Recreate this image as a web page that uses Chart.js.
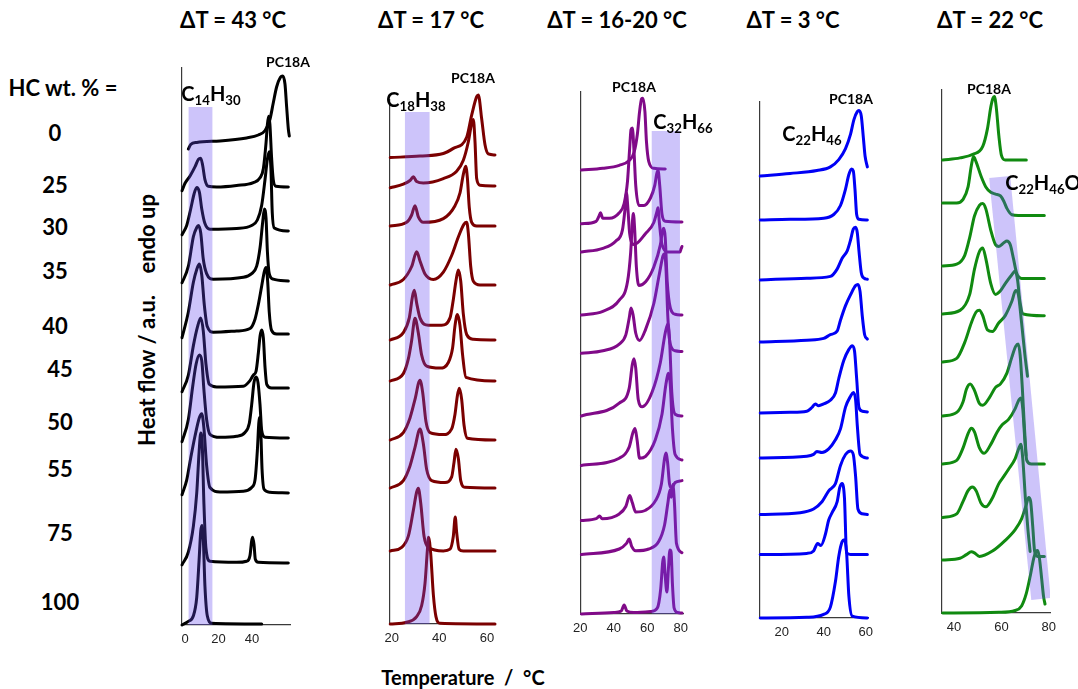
<!DOCTYPE html>
<html lang="en">
<head>
<meta charset="UTF-8">
<title>DSC heating traces</title>
<style>
  body { margin: 0; background: #fff; }
  #fig { position: relative; width: 1078px; height: 689px; overflow: hidden;
         font-family: Lato, 'Open Sans', sans-serif; font-weight: 700; color: #000; }
  .txt { position: absolute; transform: translate(-50%, -50%); white-space: pre; line-height: 1; }
  .panel { position: absolute; }
  sub { font-size: 0.66em; vertical-align: -0.28em; line-height: 0; }
</style>
</head>
<body>
<div id="fig"></div>

<script src="https://cdn.jsdelivr.net/npm/chart.js"></script>
<script>
// HC content of each stacked trace (top to bottom)
const hcLabels = ['0', '25', '30', '35', '40', '45', '50', '55', '75', '100'];
const deltaT = ['ΔT = 43 °C', 'ΔT = 17 °C', 'ΔT = 16-20 °C', 'ΔT = 3 °C', 'ΔT = 22 °C'];
const hydrocarbons = ['C14H30', 'C18H38', 'C32H66', 'C22H46', 'C22H46O'];

// tick labels of each temperature axis
const p1Ticks = [0, 20, 40];
const p2Ticks = [20, 40, 60];
const p3Ticks = [20, 40, 60, 80];
const p4Ticks = [20, 40, 60];
const p5Ticks = [40, 60, 80];

// ---- C14H30 traces: [T °C, heat flow], stacked by offset
const p1Offsets = [476, 438, 394, 344, 291, 237, 187, 132, 62, 0];
const p1Curves = [
  [[2.0,0],[3.4,4.4],[7.0,6.6],[20.9,8.1],[36.8,11.1],[43.8,14],[47.8,18.5],[50.7,29.5],[52.7,46],[54.7,62],[57.1,72],[58.3,73],[59.7,65],[60.7,42],[61.7,20],[62.3,13]],
  [[-1.8,-3.7],[0,3.7],[3.0,11],[6.0,20.3],[8.0,27.7],[9.4,28.8],[10.5,22],[11.9,7.4],[13.9,0.7],[18.9,0],[30.8,1.5],[40.8,4.4],[44.8,9.2],[46.8,18.5],[48.4,44.3],[49.2,62.7],[50.0,70.8],[50.7,62.7],[51.7,29.5],[52.7,7.4],[54.3,0.7],[61.7,0]],
  [[-1.8,-3.7],[1,5.5],[3.4,22],[5.4,37],[7.0,43.5],[8.6,38.7],[10,22],[11.9,7.4],[14.9,1.8],[30.8,2.6],[39.8,5.5],[43.2,11],[45.8,25.8],[47.8,51.7],[49.2,72],[50.3,79.3],[51.3,62.7],[52.1,18.5],[53.3,3],[61.7,0]],
  [[-1.8,-1.8],[2,14.8],[5,44.3],[7,53.5],[8,55.4],[9.4,48],[10.9,22],[12.9,7.4],[16.9,1.8],[34.8,3.7],[39.8,7.4],[42.8,14.8],[44.8,33.2],[46.4,59],[47.4,72],[48.4,62.7],[49.2,29.5],[50.3,7.4],[52.7,1.8],[61.7,0]],
  [[-1.8,-3.7],[2,22],[5,51.7],[7,64.6],[8.6,70],[10,59],[11.5,29.5],[13.3,7.4],[16.9,1.8],[30.8,3],[38.8,5.5],[41.8,14.8],[43.8,29.5],[45.8,48],[47.4,62.7],[48.4,66.4],[49.4,51.7],[50.3,22],[51.7,3.7],[54.7,0],[61.7,0]],
  [[-1.8,-3.7],[2,12.9],[5,42.4],[7.4,60.9],[9.4,70.1],[10.9,57.2],[12.5,24],[14.5,3.7],[18.9,1.1],[34.8,1.8],[38.8,7.4],[40.8,12.9],[42.4,16.6],[43.8,35],[44.8,51.7],[45.8,57.9],[46.8,49.8],[47.8,20.3],[48.8,3.7],[51.7,0],[61.7,0]],
  [[-1.8,-3.7],[2,18.5],[4.6,51.7],[6.6,73.8],[8.6,83],[10,77.5],[11.3,48],[12.9,18.5],[14.9,3.7],[20.9,0.7],[30.8,1.8],[35.8,5.5],[38.4,14.8],[39.8,33.2],[41.2,55.4],[42.4,60.9],[43.6,55.4],[44.8,33.2],[45.8,7.4],[47.8,0.7],[61.7,0]],
  [[-1.8,-1.8],[1,12.9],[3.4,35],[6,57.2],[8.6,75.6],[10,79.3],[11.3,64.6],[12.9,27.7],[14.9,5.5],[20.9,1.1],[34.8,1.8],[39.8,5.5],[41.8,12.9],[43.2,42.4],[44,68.3],[44.4,75.6],[45.2,64.6],[46,24],[47.2,3.7],[50.7,0.7],[61.7,0]],
  [[-1.8,-1.8],[2,11],[5,36.9],[7,70],[8.4,110.7],[9.4,130],[10.3,118],[11.3,59],[12.5,14.8],[14.9,1.8],[30.8,0.7],[36.8,1.8],[38.8,7.4],[39.8,22],[40.4,25.8],[41.2,18.5],[42,3.7],[43.8,0.7],[61.7,0]],
  [[-1.8,0],[2,3.7],[5,9.2],[7,27.7],[8.4,64.6],[9.4,94],[10.1,99.6],[10.9,86.7],[11.9,38.7],[13.3,9.2],[15.9,1.8],[45.8,1.1]]
];

// ---- C18H38 traces
const p2Offsets = [469, 438, 398, 339, 284, 243, 184, 136, 73, 0];
const p2Curves = [
  [[19.4,-2.6],[31.9,-1],[41.7,1.5],[45.9,6.6],[51.5,17.7],[53.6,39.9],[55.7,58.3],[56.4,60.1],[57.8,36.2],[59.2,10.3],[60.6,1.1],[63.4,0]],
  [[19.4,-1.8],[24.9,1.8],[27.7,5.5],[29.1,9.2],[30.5,4.4],[33.3,3],[41.7,7.4],[47.3,14.8],[50.1,25.8],[52.2,44.3],[53.6,62.7],[54.3,66.4],[55,44.3],[55.7,7.4],[57.1,0.7],[63.4,0]],
  [[19.4,0],[26.3,3.7],[28.4,11],[29.8,20.3],[31.2,9.2],[33.3,3.7],[41.7,7.4],[46.6,20.3],[48.7,33.2],[50.1,51.7],[51.1,59.8],[51.8,48],[52.6,18.5],[53.6,3.7],[55.7,0],[63.4,0]],
  [[19.4,0],[24.9,5.5],[28.4,18.5],[30.5,33.2],[31.9,24],[34,11],[37.5,5.5],[41.7,12.9],[45.2,29.5],[48,48],[50.4,60.9],[51.5,62.7],[52.2,51.7],[53.2,18.5],[54.3,3.7],[57.1,0],[63.4,0]],
  [[19.4,0],[24.9,7.4],[27.4,22.1],[28.8,44.3],[29.5,49.8],[30.5,36.9],[31.9,22.1],[35.4,14.8],[41,14.8],[44.5,22.1],[45.9,40.6],[47,59],[48,70.1],[49,59],[50.1,25.8],[51.5,5.5],[54.3,0.7],[63.4,0]],
  [[19.4,0],[24.9,7.4],[27,22.1],[28.4,40.6],[29.8,62.7],[31.2,48],[32.6,25.8],[34.7,14.8],[40.3,12.9],[43.8,18.5],[45.6,33.2],[46.6,55.4],[47.6,66.4],[48.7,55.4],[49.8,25.8],[51.2,3.7],[63.4,0]],
  [[19.4,0],[24.9,7.4],[27.7,22.1],[29.8,40.6],[31.9,59.8],[33,48],[34.4,18.5],[36.1,7.4],[41.7,5.5],[45.2,11.1],[46.6,25.8],[47.6,44.3],[48.4,51.7],[49.4,40.6],[50.4,14.8],[51.8,1.8],[63.4,0]],
  [[19.4,0],[24.9,7.4],[27.7,22.1],[29.8,40.6],[31.9,59],[33.3,44.3],[34.7,18.5],[36.8,7.4],[42.4,5.5],[45.2,11.1],[46.2,25.8],[47,38.7],[48,29.5],[49,7.4],[50.8,0.7],[63.4,0]],
  [[19.4,0],[24.2,3.7],[27,14.8],[29.1,40.6],[30.5,59],[31.2,62.7],[32.2,48],[33.6,14.8],[35.4,3.7],[41.7,0],[44.5,1.8],[45.9,14.8],[46.7,34],[47.3,18.5],[48.3,1.8],[50.1,0],[63.4,0]],
  [[19.4,0],[26.3,1.8],[30.5,7.4],[32.6,18.5],[34,40.6],[35,73.8],[35.5,86.7],[36.4,70.1],[37.5,29.5],[38.6,7.4],[40.3,0.7],[63.4,0]]
];

// ---- C32H66 traces
const p3Offsets = [445, 392, 362, 299, 262.5, 198, 154, 93.5, 59.5, 0];
const p3Curves = [
  [[20.7,-1.1],[33.5,0.7],[43.3,3.7],[49.2,8.5],[52.1,16.6],[54.1,35],[55.4,57.2],[56.6,70.1],[57.4,70.8],[58.6,57.2],[59.5,27.7],[60.9,7.4],[63.9,0.7],[70.7,0]],
  [[20.7,-1.8],[29.5,0.7],[31.1,5.5],[32.1,9.2],[33.5,3.7],[37.4,3.7],[43.3,9.2],[46.2,18.5],[48.2,40.6],[49.5,73.8],[50.3,92.3],[51.1,94.1],[52.1,70.1],[53.1,36.9],[55,16.6],[58,16.6],[61.9,24],[64.5,36.9],[65.6,48],[66.4,51.7],[67.4,36.9],[68.8,7.4],[70.7,0.7],[80.7,0]],
  [[20.7,0],[33.5,3.7],[41.3,11.1],[45.2,22.1],[46.8,44.3],[47.6,59],[48.4,44.3],[49.5,18.5],[52.1,7.4],[59,18.5],[63.9,29.5],[65.8,40.6],[66.4,44.3],[67.2,29.5],[68.8,7.4],[72.7,0],[79.5,0],[80.1,3],[80.7,5.5]],
  [[20.7,0],[33.5,3.7],[43.3,14.8],[48.2,33.2],[50.1,62.7],[51.1,92.3],[51.7,101.5],[52.5,84.9],[53.5,48],[55,29.5],[59,33.2],[63.9,48],[67.8,70.1],[69.2,84.9],[69.9,86.7],[70.7,77.5],[71.9,33.2],[73.7,7.4],[76.6,0.7],[80.7,0]],
  [[20.7,-1.8],[33.5,0.7],[43.3,7.4],[47.2,16.6],[49.2,33.2],[50.3,43.5],[51.5,36.9],[53.1,18.5],[55.4,11.1],[59,22.1],[63.9,48],[67.2,77.5],[69.4,95.9],[70.3,97.8],[71.1,84.9],[72.3,33.2],[73.7,7.4],[76.6,0.7],[80.7,0]],
  [[20.7,0],[43.3,12.9],[49.2,27.7],[51.1,51.7],[52.1,57.2],[53.1,48],[54.6,16.6],[57,9.2],[62.9,24],[67.8,53.5],[70.7,83],[72.3,92.3],[73.3,75.6],[74.6,24],[76.6,1.8],[80.7,0]],
  [[20.7,-5.5],[43.3,1.8],[49.2,12.9],[51.5,27.7],[52.7,31.4],[53.9,20.3],[55.4,1.8],[59,3.7],[64.8,20.3],[68.8,46.1],[71.1,75.6],[72.7,86.7],[73.7,75.6],[75,31.4],[76.6,5.5],[80.7,0]],
  [[20.7,0],[29.5,1.8],[31.5,4.4],[33.1,1.8],[43.3,6.6],[47.2,14],[49.5,25.1],[51.1,17.7],[53.1,8.5],[59,10.3],[64.8,19.6],[68.4,36.2],[70.3,62],[71.1,67.5],[72.1,58.3],[73.3,36.2],[74.6,32.5],[76.6,38],[80.7,39.9]],
  [[20.7,0],[43.3,5.5],[47.6,11.1],[49.2,15.5],[50.7,8.1],[53.1,3.7],[60.9,5.5],[66.8,12.9],[70.3,29.5],[72.3,51.7],[73.5,64.6],[74.3,57.2],[75.2,70.1],[76.2,51.7],[77.4,11.1],[80.7,1.8]],
  [[20.7,0],[40,1.5],[44.5,3],[46.2,9],[47.8,3],[52,1.5],[62,2.5],[66,6],[68,25],[69.2,52],[69.8,57],[70.6,40],[71.7,22],[72.6,45],[73.5,64],[74.2,62],[75,30],[76,6],[78,1.5],[80.7,1]]
];

// ---- C22H46 traces (nine compositions)
const p4Offsets = [442, 398, 338, 276, 205, 160, 103.5, 63.5, 0];
const p4Curves = [
  [[9.8,0],[24,2.5],[36.8,5.5],[43.2,9.1],[47.2,16.4],[50.4,27.3],[52.8,41.8],[54.4,56.4],[56,64.4],[56.8,65.5],[57.9,60],[58.9,38.2],[59.7,20],[60.8,9.1]],
  [[9.8,0],[24,0.7],[40,1.8],[44.8,5.5],[48,14.5],[50.4,30.9],[52,45.5],[53.3,50.9],[54.1,49.1],[54.9,30.9],[55.7,5.5],[56.8,0.7],[60.8,0]],
  [[9.8,0],[32,1.8],[43.2,3.6],[46.4,10.9],[48.8,21.8],[51.2,29.1],[52.8,40],[54.1,50.9],[55.2,52.7],[56,47.3],[56.8,29.1],[57.9,7.3],[59.2,1.8],[60.8,0.7]],
  [[9.8,0],[32,1.8],[40,3.6],[43.2,7.3],[46.4,10.9],[48,21.8],[50.4,36.4],[52.8,47.3],[55.2,56.4],[56.3,57.5],[57.3,50.9],[58.4,25.5],[59.5,7.3],[60.8,2.9]],
  [[9.8,0],[24,0.7],[32,1.8],[34.4,5.5],[36,9.1],[37.6,7.3],[40,9.1],[43.2,12.7],[45.6,20],[47.2,34.5],[49.6,52.7],[52,63.6],[53.6,67.3],[54.7,61.8],[55.7,34.5],[56.8,5.5],[58.4,1.8],[60.8,1.1]],
  [[9.8,0],[32,1.8],[35.2,3.6],[36.8,6.5],[39.2,5.5],[42.4,9.1],[45.6,18.2],[48,29.1],[50.4,50.9],[52.8,61.8],[54.1,65.5],[55.2,58.2],[56,32.7],[57.3,3.6],[60.8,0]],
  [[9.8,0],[28.8,1.8],[35.2,5.5],[39.2,12.7],[42.4,23.6],[45.6,30.9],[48,49.1],[50.4,60],[52.8,63.6],[54.1,60],[55.2,38.2],[56.3,5.5],[58.4,0.7],[60.8,0]],
  [[9.8,0],[32,1.1],[35.2,3.6],[37.1,10.9],[38.7,9.1],[40.8,20],[42.4,34.5],[44,41.8],[46.4,52.7],[47.7,67.3],[48.8,70.9],[49.9,56.4],[50.9,1.8],[52.8,0],[60.8,0]],
  [[9.8,0],[32,0.7],[40,3.6],[43.2,10.9],[45.6,36.4],[47.2,61.8],[48.8,76.4],[49.9,78.2],[50.9,65.5],[52,21.8],[53.6,1.8],[60.8,0]]
];

// ---- C22H46O traces
const p5Offsets = [453, 410, 347, 299, 251, 197, 149, 95.5, 53, 0];
const p5Curves = [
  [[35.2,0],[42.5,2.1],[47.9,5.7],[52.1,13.6],[54.1,31.4],[55.5,52.9],[56.4,61.8],[57,63.6],[57.8,52.9],[58.9,24.3],[60,4.6],[61.6,0],[70.5,0]],
  [[35.2,0],[41.1,0],[43.8,3.6],[45.9,16.1],[47.3,37.5],[48.2,46.4],[49.3,41.1],[51.4,26.8],[53.4,16.1],[55.5,10.7],[57.5,8.9],[59.6,7.1],[61,1.8],[62.3,-5.4],[64.4,-11.8],[67.1,-12.5],[78.1,-12.5]],
  [[35.2,0],[41.1,1.8],[44.5,10.7],[46.6,28.6],[48.6,50],[50.7,60.7],[52.1,62.5],[53.4,57.1],[55.5,35.7],[57.5,21.4],[58.9,19.6],[61,23.2],[62.3,25],[63.7,21.4],[65.1,7.1],[66.4,-7.1],[68.5,-12.5],[78.1,-12.5]],
  [[35.2,0],[42.5,3.6],[46.6,19.6],[48.6,44.6],[50.7,62.5],[52.1,66.1],[53.4,55.4],[55.5,30.4],[57.5,19.6],[59.6,23.2],[61.6,30.4],[64.4,39.3],[65.8,42.9],[66.8,33.9],[67.8,12.5],[69.2,0],[78.1,-1.8]],
  [[35.2,0],[41.1,3.6],[44.5,19.6],[47.3,39.3],[49.3,50],[50.7,51.8],[52.1,46.4],[54.1,32.1],[56.2,30.4],[58.9,39.3],[61.6,46.4],[64.4,60.7],[66,71.4],[67.1,67.9],[68.5,39.3],[69.9,7.1],[71,-14.3]],
  [[35.2,0],[41.1,3.6],[43.8,14.3],[45.2,26.8],[46.8,32.1],[48.6,25.7],[50.7,12.5],[52.1,10.7],[54.8,17.9],[57.5,28.6],[59.6,32.1],[62.3,42.9],[64.4,58.9],[66,69.6],[67.1,72.1],[67.9,60.7],[68.8,28.6],[69.6,-7.1],[70.4,-39.3]],
  [[35.2,0],[41.1,3.6],[43.8,16.1],[45.9,30.4],[47.3,35.7],[48.6,32.1],[50.7,16.1],[52.7,10.7],[55.5,19.6],[58.2,32.1],[60.3,39.3],[63,44.6],[65.8,55.4],[67.4,64.3],[68.2,66.1],[69,55.4],[69.9,23.2],[70.7,3.6],[72.6,0],[78.1,0]],
  [[35.2,0],[41.1,3.6],[43.8,16.1],[45.9,26.8],[47.7,30.4],[49.3,26.8],[51.4,14.3],[53.4,10.7],[56.2,19.6],[58.9,33.9],[61,41.1],[63,48.2],[65.8,58.9],[67.4,69.6],[68.2,73.2],[69,58.9],[70.1,19.6],[71.2,-12.5],[72.1,-33.9]],
  [[35.2,0],[42.5,1.8],[45.2,5.4],[47.3,8.2],[48.6,7.1],[50.7,3.6],[56.2,8.9],[61.6,19.6],[65.8,30.4],[68.5,41.1],[70.5,55.4],[71.5,62.5],[72.3,58.9],[73.2,33.9],[74,8.9],[75.3,3.6],[78.1,3.6]],
  [[35.2,0],[58.9,0.7],[65.8,2.5],[68.5,7.1],[70.5,19.6],[72.2,37.5],[73.7,55.4],[74.7,61.8],[75.3,62.5],[76,55.4],[77,33.9],[77.8,16.1],[78.4,8.9]]
];

// melting windows of the hydrocarbon: [T from, T to, height]
const p1Band = [2, 16.5, 518];
const p2Band = [25.5, 36, 512];
const p3Band = [62.5, 79.5, 483];
// slanted window for C22H46O, upper and lower edges
const p5BandUpper = [[54.8, 435], [63.7, 437], [80.8, 15]];
const p5BandLower = [[54.8, 435], [72.6, 13], [80.8, 15]];

const BAND = 'rgba(100, 70, 240, 0.32)';

// plot box of each panel on the page (left, right, top, bottom) and its temperature range
const panels = [
  { box: [182, 290, 68, 625], xr: [-1.8, 62.7], ticks: p1Ticks, curves: p1Curves, offsets: p1Offsets, color: '#000000', band: p1Band },
  { box: [390, 495, 100, 624], xr: [19.3, 63.4], ticks: p2Ticks, curves: p2Curves, offsets: p2Offsets, color: '#7b0000', band: p2Band },
  { box: [580, 683, 92, 614], xr: [20.1, 81.3], ticks: p3Ticks, curves: p3Curves, offsets: p3Offsets, color: '#800a88', band: p3Band },
  { box: [760, 868, 102, 618], xr: [9.7, 61.1], ticks: p4Ticks, curves: p4Curves, offsets: p4Offsets, color: '#0000f5', band: null },
  { box: [942, 1050, 90, 613], xr: [34.9, 80.5], ticks: p5Ticks, curves: p5Curves, offsets: p5Offsets, color: '#108a10', band: null, slanted: true }
];

const PL = 14, PR = 18, PT = 30, XH = 30;
const fig = document.getElementById('fig');
Chart.defaults.font.family = "'Liberation Sans', Arial, sans-serif";

function bandSets(p) {
  const base = { borderWidth: 0, pointRadius: 0, tension: 0, backgroundColor: BAND };
  if (p.slanted) {
    return [
      { ...base, data: p5BandUpper.map(([x, y]) => ({ x, y })), fill: '+1' },
      { ...base, data: p5BandLower.map(([x, y]) => ({ x, y })), fill: false }
    ];
  }
  if (!p.band) return [];
  const [a, b, top] = p.band;
  return [{ ...base, data: [{ x: a, y: top }, { x: b, y: top }], fill: 'origin' }];
}

function traceSets(p) {
  return p.curves.map((pts, i) => ({
    data: pts.map(([t, v]) => ({ x: t, y: v + p.offsets[i] })),
    borderColor: p.color,
    borderWidth: 3,
    pointRadius: 0,
    cubicInterpolationMode: 'monotone',
    borderJoinStyle: 'round',
    borderCapStyle: 'round',
    fill: false,
    clip: false
  }));
}

panels.forEach(p => {
  const [l, r, t, b] = p.box;
  const cv = document.createElement('canvas');
  cv.className = 'panel';
  cv.width = r - l + PL + PR;
  cv.height = b - t + PT + XH;
  cv.style.left = (l - PL) + 'px';
  cv.style.top = (t - PT) + 'px';
  fig.appendChild(cv);

  const axisBorder = { display: true, color: '#3a3a3a', width: 1.2 };
  new Chart(cv, {
    type: 'line',
    data: { datasets: [...bandSets(p), ...traceSets(p)] },
    options: {
      responsive: false,
      animation: false,
      layout: { padding: { left: PL, right: PR, top: PT, bottom: 0 } },
      plugins: { legend: { display: false }, tooltip: { enabled: false } },
      scales: {
        x: {
          type: 'linear', min: p.xr[0], max: p.xr[1],
          afterBuildTicks: s => { s.ticks = p.ticks.map(v => ({ value: v })); },
          afterFit: s => { s.height = XH; },
          grid: { display: false, drawTicks: false },
          border: axisBorder,
          ticks: { padding: 7, color: '#222', font: { size: 13 }, maxRotation: 0 }
        },
        y: {
          min: 0, max: b - t,
          afterFit: s => { s.width = 0; },
          grid: { display: false, drawTicks: false },
          border: axisBorder,
          ticks: { display: false }
        }
      }
    }
  });
});

// ---- text
function label(html, x, y, size, extra) {
  const d = document.createElement('div');
  d.className = 'txt';
  d.innerHTML = html;
  d.style.left = x + 'px';
  d.style.top = y + 'px';
  d.style.fontSize = size + 'px';
  if (extra) d.style.transform = extra;
  fig.appendChild(d);
}
const sub = s => s.replace(/(\d+)/g, '<sub>$1</sub>');

[233, 431, 617, 793, 990].forEach((x, i) => label(deltaT[i], x, 20, 22));
label('HC wt. % =', 63, 88, 22);
[133, 185, 227, 271, 326, 369, 422, 469, 533, 602].forEach((y, i) =>
  label(hcLabels[i], i < 5 ? 55 : 60, y, 22));

[[288, 62], [473, 78], [634, 87], [851, 99], [989, 89]].forEach(([x, y]) =>
  label('PC18A', x, y, 14));
[[211, 93], [416, 99], [683, 121], [812, 133], [1043, 182]].forEach(([x, y], i) =>
  label(sub(hydrocarbons[i]), x, y, 20));

label('Heat flow / a.u.    endo up', 147, 320, 22, 'translate(-50%, -50%) rotate(-90deg)');
label('Temperature  /  °C', 463, 677, 20);
</script>
</body>
</html>
